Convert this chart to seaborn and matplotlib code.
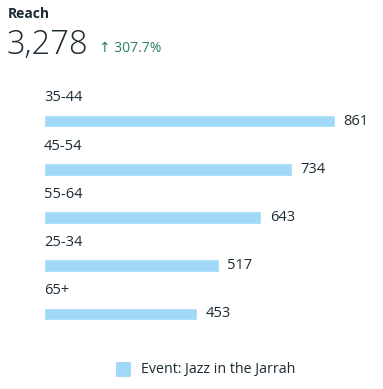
import matplotlib
matplotlib.use("Agg")
import matplotlib.pyplot as plt
import seaborn as sns
import pandas as pd
from matplotlib.patches import FancyBboxPatch

categories = ["35-44", "45-54", "55-64", "25-34", "65+"]
values = [861, 734, 643, 517, 453]
series_name = "Event: Jazz in the Jarrah"
title = "Reach"
total = "3,278"
change = "307.7%"

sns.set_theme(style="white")
plt.rcParams['font.family'] = ['Open Sans', 'DejaVu Sans']

W, H = 383, 389
fig = plt.figure(figsize=(W / 100, H / 100), dpi=100)
text_col = "#1c2b33"
bar_col = "#a0d8f7"
green = "#2a7f62"

left, top, bottom = 44, 97, 338
width = 291 * 1000 / 861
ax = fig.add_axes([left / W, 1 - bottom / H, width / W, (bottom - top) / H])

df = pd.DataFrame({"cat": categories, "val": values})
sns.barplot(data=df, x="val", y="cat", orient="h", color=bar_col, width=0.26,
            saturation=1, ax=ax)
ax.set_xlim(0, 1000)
ax.set_ylim(4.5, -0.5)
ax.axis("off")

for i, (c, v) in enumerate(zip(categories, values)):
    ax.text(0, i - 0.48, c, ha="left", va="center", fontsize=10.5, color=text_col)
    ax.annotate(f"{v}", (v, i), xytext=(6, 0), textcoords="offset points",
                ha="left", va="center", fontsize=10.5, color=text_col)

fig.text(8 / W, 1 - 14 / H, title, ha="left", va="center", fontsize=10,
         fontweight="bold", color=text_col)
fig.text(7 / W, 1 - 45 / H, total, ha="left", va="center", fontsize=23.5,
         fontweight="light", color=text_col)
fig.text(99 / W, 1 - 49 / H, "↑ " + change, ha="left", va="center", fontsize=10,
         color=green)

sq = FancyBboxPatch((116 / W, 1 - 377 / H), 15 / W, 15 / H,
                    boxstyle="round,pad=0,rounding_size=0.004",
                    transform=fig.transFigure, facecolor=bar_col, edgecolor="none")
fig.patches.append(sq)
fig.text(141 / W, 1 - 370 / H, series_name, ha="left", va="center", fontsize=10.3,
         color=text_col)

fig.savefig("out.png", dpi=100)
